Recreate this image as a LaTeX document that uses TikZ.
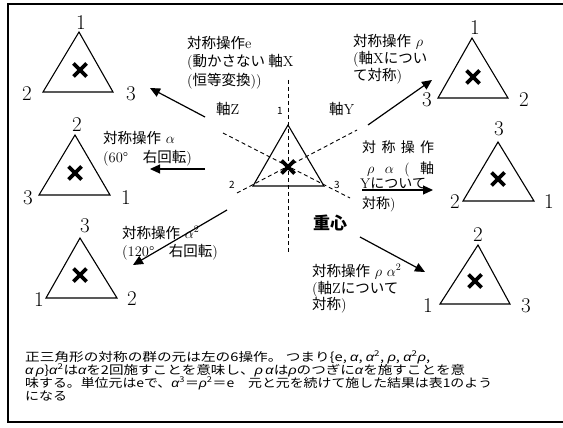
\documentclass[tikz,border=0pt]{standalone}
\usepackage{fontspec}
\usepackage{graphicx}
\newfontfamily\jp{Noto Sans CJK JP}
\newfontfamily\gkf{Liberation Sans}
\usetikzlibrary{arrows.meta}
\newcommand\myga{{\gkf\itshape α}}
\newcommand\mygr{{\gkf\itshape ρ}}
\tikzset{
 tri/.style={line width=1.1pt, line join=miter},
 xm/.pic={\draw[line width=3.8pt] (-6.5,-6.5)--(6.5,6.5) (-6.5,6.5)--(6.5,-6.5);},
 vnum/.style={font=\fontsize{21}{21}\selectfont, inner sep=0pt},
 cnum/.style={font=\fontsize{10}{10}\selectfont\jp, inner sep=0pt},
 lbl/.style={font=\fontsize{14.5}{14.5}\selectfont, inner sep=0pt, anchor=base west},
 lbls/.style={font=\fontsize{14}{14}\selectfont, inner sep=0pt, anchor=base west},
 body/.style={font=\fontsize{12}{12}\selectfont\jp, inner sep=0pt, anchor=base west},
 arr/.style={line width=1.2pt, -{Triangle[length=10pt,width=9pt]}},
 axisline/.style={line width=0.9pt, dash pattern=on 4pt off 3pt},
}
\begin{document}
\begin{tikzpicture}[x=1pt,y=-1pt]
\useasboundingbox (0,0) rectangle (563,428);
\fill[white] (0,0) rectangle (563,428);
% frame
\draw[line width=1.8pt] (563,4) -- (8,4) -- (8,422) -- (563,422);

% central triangle and axes
\draw[axisline] (288,80) -- (288,252);
\draw[axisline] (223,133) -- (350,198);
\draw[axisline] (237,193) -- (357,130);
\draw[tri] (288,125) -- (253,186) -- (324,186) -- cycle;
\pic at (288,167) {xm};
\node[cnum] (c1) at (280,111) {1};
\node[cnum] (c2) at (232,185) {2};
\node[cnum] (c3) at (337,185) {3};

% top-left triangle (e)
\draw[tri] (79,32) -- (43,92) -- (113,92) -- cycle;
\pic at (80,70) {xm};
\node[vnum] (tl1) at (81,23) {1};
\node[vnum] (tl2) at (27,94) {2};
\node[vnum] (tl3) at (131,94) {3};

% top-right triangle (rho)
\draw[tri] (472,38) -- (438,98) -- (508,98) -- cycle;
\pic at (473,77) {xm};
\node[vnum] (tr1) at (475,28) {1};
\node[vnum] (tr3) at (427,100) {3};
\node[vnum] (tr2) at (524,100) {2};

% middle-left triangle (alpha)
\draw[tri] (75,135) -- (39,195) -- (110,195) -- cycle;
\pic at (75,173) {xm};
\node[vnum] (ml2) at (77,125) {2};
\node[vnum] (ml3) at (28,198) {3};
\node[vnum] (ml1) at (126,198) {1};

% bottom-left triangle (alpha^2)
\draw[tri] (80,238) -- (46,298) -- (117,298) -- cycle;
\pic at (80,275) {xm};
\node[vnum] (bl3) at (85,226) {3};
\node[vnum] (bl1) at (39,300) {1};
\node[vnum] (bl2) at (132,299) {2};

% middle-right triangle (rho alpha)
\draw[tri] (498,142) -- (463,201) -- (534,201) -- cycle;
\pic at (498,179) {xm};
\node[vnum] (mr3) at (499,129) {3};
\node[vnum] (mr2) at (455,202) {2};
\node[vnum] (mr1) at (549,202) {1};

% bottom-right triangle (rho alpha^2)
\draw[tri] (478,245) -- (440,304) -- (510,304) -- cycle;
\pic at (475,281) {xm};
\node[vnum] (br2) at (478,235) {2};
\node[vnum] (br1) at (428,306) {1};
\node[vnum] (br3) at (526,306) {3};

% arrows
\coordinate (a1s) at (205,117); \coordinate (a1e) at (150,88);
\coordinate (a2s) at (368,125); \coordinate (a2e) at (432,80);
\coordinate (a3s) at (205,169); \coordinate (a3e) at (150,169);
\coordinate (a4s) at (227,210); \coordinate (a4e) at (133,265);
\coordinate (a5s) at (362,190); \coordinate (a5e) at (433,190);
\coordinate (a6s) at (360,237); \coordinate (a6e) at (425,272);
\draw[arr] (a1s) -- (a1e);
\draw[arr] (a2s) -- (a2e);
\draw[arr] (a3s) -- (a3e);
\draw[arr] (a4s) -- (a4e);
\draw[arr] (a5s) -- (a5e);
\draw[arr] (a6s) -- (a6e);

% labels
\node[lbl] (e1) at (187,49) {{\jp 対称操作}e};
\node[lbl] (e2) at (187,67) {({\jp 動かさない 軸}X};
\node[lbl] (e3) at (187,85) {({\jp 恒等変換}))};
\node[lbl] (axz) at (216,115) {{\jp 軸}Z};
\node[lbl] (axy) at (329,115) {{\jp 軸}Y};

\node[lbl] (r1) at (353,47) {{\jp 対称操作} $\rho$};
\node[lbl] (r2) at (353,64) {({\jp 軸}X{\jp につい}};
\node[lbl] (r3) at (353,81) {{\jp て対称})};

\node[lbl] (al1) at (103,143) {{\jp 対称操作} $\alpha$};
\node[lbl] (al2) at (103,162) {(60\textdegree\quad{\jp 右回転})};

\node[lbl] (bt1) at (122,238) {{\jp 対称操作} $\alpha^2$};
\node[lbl] (bt2) at (122,256) {(120\textdegree\quad{\jp 右回転})};

\node[lbls] (ra1) at (362,153) {\makebox[72pt][s]{\jp 対\hfill 称\hfill 操\hfill 作}};
\node[lbls] (ra2) at (367,173) {\makebox[67pt][s]{$\rho$\hfill$\alpha$\hfill(\hfill{\jp 軸}}};
\node[lbls] (ra3) at (360,189) {Y{\jp について}};
\node[lbls] (ra4) at (362,208) {{\jp 対称})};

\node[lbl] (rb1) at (312,276) {{\jp 対称操作} $\rho\ \alpha^2$};
\node[lbl] (rb2) at (312,293) {({\jp 軸}Z{\jp について}};
\node[lbl] (rb3) at (312,309) {{\jp 対称})};

\node[font=\fontsize{17}{17}\selectfont\jp\bfseries, inner sep=0pt, anchor=base west] (cog) at (313,229) {重心};

% bottom text
\node[body] (t1) at (25,361) {\resizebox{405pt}{\height}{正三角形の対称の群の元は左の6操作。 つまり\{e, \myga, \myga\textsuperscript{2}, \mygr, \myga\textsuperscript{2}\mygr,}};
\node[body] (t2) at (25,374) {\resizebox{440pt}{\height}{\myga\,\mygr\}\myga\textsuperscript{2}は\myga を2回施すことを意味し、\mygr\,\myga は\mygr のつぎに\myga を施すことを意}};
\node[body] (t3) at (25,387) {\resizebox{467pt}{\height}{味する。単位元はeで、\myga\textsuperscript{3}＝\mygr\textsuperscript{2}＝e　元と元を続けて施した結果は表1のよう}};
\node[body] (t4) at (25,400) {\resizebox{42pt}{\height}{になる}};
\end{tikzpicture}
\end{document}
